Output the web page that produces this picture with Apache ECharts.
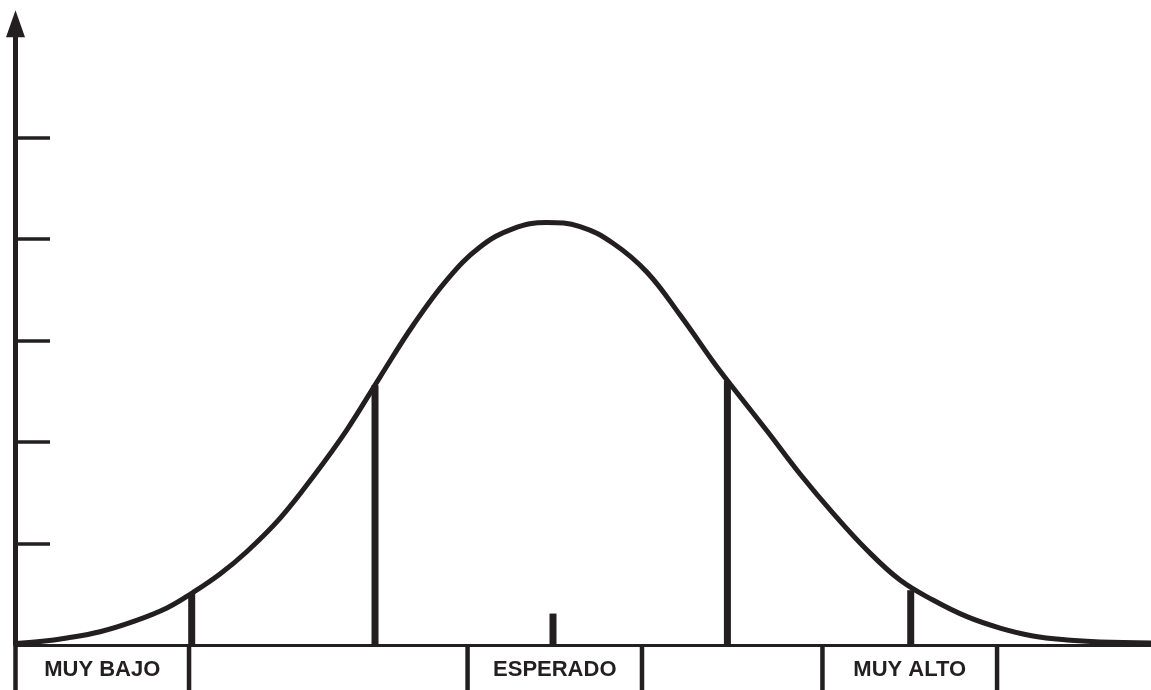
<!DOCTYPE html>
<html>
<head>
<meta charset="utf-8">
<script src="https://cdn.jsdelivr.net/npm/echarts@6/dist/echarts.min.js"></script>
<style>
  html, body { margin: 0; padding: 0; background: #ffffff; }
  #chart { width: 1151px; height: 690px; }
</style>
</head>
<body>
<div id="chart"></div>
<script>
// Curve (x in standard deviations, y in tick units)
const curveX = [-3.00, -2.862, -2.712, -2.525, -2.340, -2.149, -2.008, -1.851, -1.701, -1.514,
                -1.328, -1.139, -0.952, -0.765, -0.577, -0.390, -0.203, -0.015, 0.172, 0.359,
                0.547, 0.734, 0.921, 1.015, 1.223, 1.408, 1.593, 1.784, 1.970, 2.155,
                2.346, 2.532, 2.717, 2.908, 3.094, 3.38];
const curveY = [0.015, 0.034, 0.069, 0.131, 0.230, 0.365, 0.512, 0.700, 0.919, 1.248,
                1.658, 2.118, 2.640, 3.153, 3.596, 3.921, 4.103, 4.163, 4.123, 3.956,
                3.675, 3.251, 2.788, 2.571, 2.108, 1.685, 1.300, 0.936, 0.640, 0.443,
                0.279, 0.167, 0.089, 0.049, 0.030, 0.020];

// Vertical marker lines under the curve: positions and heights
const markerX = [-2.01, -0.98, 0.02, 1.00, 2.03];
const markerY = [0.512, 2.56, 0.31, 2.60, 0.54];

// Bottom category boxes
const boxStart = [-3.00, -0.46, 1.534];
const boxEnd   = [-2.025, 0.52, 2.515];
const boxLabels = ['MUY BAJO', 'ESPERADO', 'MUY ALTO'];

// Axis ticks
const yTickValues = [1, 2, 3, 4, 5];
const xMin = -3.0, xMax = 3.38;
const yMin = 0, yMax = 6.12;

const INK = '#231f20';

const curveData = curveX.map((x, i) => [x, curveY[i]]);
const markerData = markerX.map((x, i) => [x, markerY[i]]);
const boxData = boxStart.map((s, i) => [s, boxEnd[i], boxLabels[i]]);

const chart = echarts.init(document.getElementById('chart'), null, { renderer: 'canvas' });

const option = {
  animation: false,
  backgroundColor: '#ffffff',
  grid: { left: 15.5, right: 0, top: 23.82, bottom: 45, containLabel: false },
  xAxis: {
    type: 'value',
    min: xMin, max: xMax,
    axisLine: { show: true, onZero: false, lineStyle: { color: INK, width: 3 } },
    axisTick: { show: false },
    axisLabel: { show: false },
    splitLine: { show: false }
  },
  yAxis: {
    type: 'value',
    min: yMin, max: yMax, interval: 1,
    axisLine: {
      show: true,
      onZero: false,
      lineStyle: { color: INK, width: 5 },
      symbol: ['none', 'triangle'],
      symbolSize: [19, 27],
      symbolOffset: [0, 0]
    },
    axisTick: {
      show: true, inside: true, length: 34.5,
      customValues: yTickValues,
      lineStyle: { color: INK, width: 3.5 }
    },
    axisLabel: { show: false },
    splitLine: { show: false }
  },
  series: [
    {
      type: 'custom',
      name: 'boxes',
      z: 1,
      silent: true,
      clip: false,
      data: boxData,
      renderItem: function (params, api) {
        const p0 = api.coord([api.value(0), 0]);
        const p1 = api.coord([api.value(1), 0]);
        const top = p0[1] + 1.5;
        const bottom = api.getHeight() + 2;
        const w = 4.5;
        return {
          type: 'group',
          children: [
            { type: 'rect', shape: { x: p0[0] - w / 2, y: top, width: w, height: bottom - top }, style: { fill: INK } },
            { type: 'rect', shape: { x: p1[0] - w / 2, y: top, width: w, height: bottom - top }, style: { fill: INK } },
            {
              type: 'text',
              x: (p0[0] + p1[0]) / 2,
              y: top + 23,
              style: {
                text: boxLabels[params.dataIndex],
                fill: INK,
                font: 'bold 22px "Liberation Sans", Arial, sans-serif',
                align: 'center',
                verticalAlign: 'middle'
              }
            }
          ]
        };
      }
    },
    {
      type: 'custom',
      name: 'markers',
      z: 2,
      silent: true,
      data: markerData,
      renderItem: function (params, api) {
        const b = api.coord([api.value(0), 0]);
        const t = api.coord([api.value(0), api.value(1)]);
        const w = 7;
        return {
          type: 'rect',
          shape: { x: b[0] - w / 2, y: t[1], width: w, height: b[1] - t[1] },
          style: { fill: INK }
        };
      }
    },
    {
      type: 'line',
      name: 'curve',
      z: 3,
      data: curveData,
      smooth: 0.4,
      showSymbol: false,
      symbol: 'none',
      silent: true,
      lineStyle: { color: INK, width: 5 }
    }
  ]
};

chart.setOption(option);
</script>
</body>
</html>
